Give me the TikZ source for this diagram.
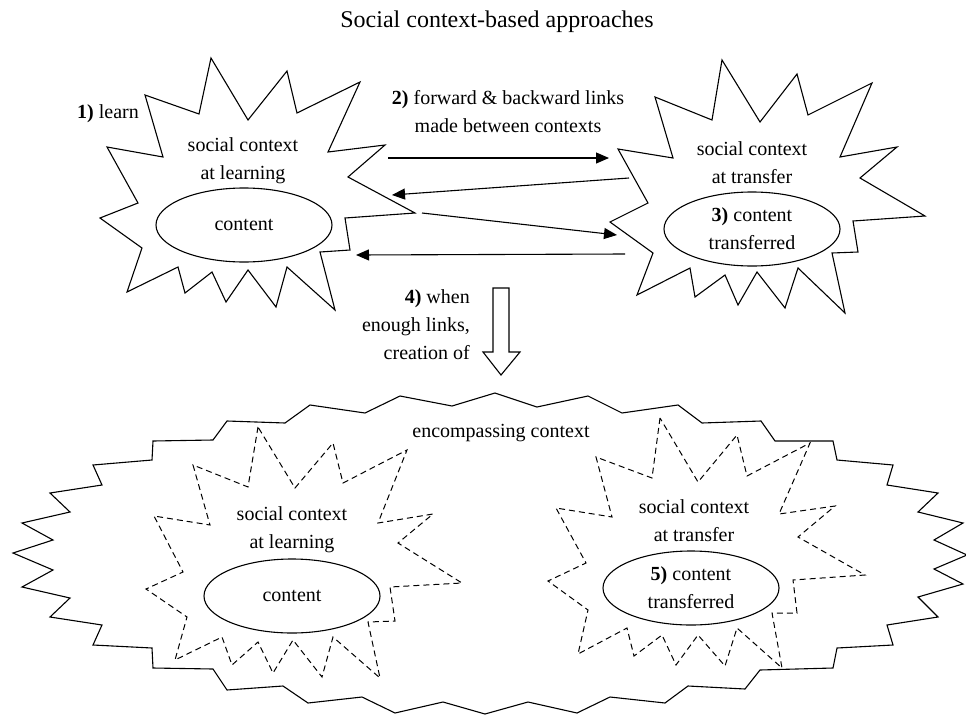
\documentclass[tikz,border=0pt]{standalone}
\usepackage{fontspec}
\setmainfont{Liberation Serif}
\usetikzlibrary{arrows.meta,shapes.geometric}
\begin{document}
\begin{tikzpicture}[x=1pt,y=-1pt,
  lbl/.style={inner sep=0pt,align=center,font=\fontsize{20}{28}\selectfont},
  ttl/.style={inner sep=0pt,font=\fontsize{24}{28}\selectfont},
  outline/.style={draw=black,line width=1.1pt,line join=miter,miter limit=20},
  dashout/.style={draw=black,line width=1pt,dash pattern=on 6pt off 4pt,miter limit=20},
  oval/.style={draw=black,line width=1.1pt,ellipse,minimum width=176pt,minimum height=74pt,inner sep=0pt,align=center,font=\fontsize{20}{28}\selectfont},
  link/.style={draw=black,line width=1.1pt,-{Triangle[length=13pt,width=11pt]}},
  hollow/.style={draw=black,line width=1.1pt,fill=white}]
\useasboundingbox (0,0) rectangle (966,715);

% title
\node[ttl] (title) at (497,22) {Social context-based approaches};

% top-left star
\draw[outline] (211,58) -- (248,120) -- (287,71) -- (297,113) -- (360,82) -- (328,152)
  -- (385,145) -- (348,177) -- (415,213) -- (345,218) -- (350,250) -- (320,252)
  -- (335,310) -- (287,267) -- (276,307) -- (248,270) -- (226,302) -- (212,272)
  -- (185,293) -- (178,267) -- (127,292) -- (142,248) -- (100,218) -- (138,203)
  -- (107,147) -- (163,157) -- (145,95) -- (199,114) -- cycle;
\node[lbl] (learnctx) at (243,161) {social context\\at learning};
\node[oval] (content1) at (244,225) {content};
\node[lbl] (learn) at (108,114) {\textbf{1)} learn};

% top-right star
\draw[outline] (722,60) -- (760,122) -- (797,74) -- (808,115) -- (872,83) -- (840,157)
  -- (897,147) -- (860,178) -- (925,216) -- (853,221) -- (858,252) -- (832,253)
  -- (845,313) -- (798,268) -- (785,308) -- (757,272) -- (738,305) -- (725,275)
  -- (695,297) -- (690,268) -- (637,295) -- (653,253) -- (610,222) -- (648,203)
  -- (618,149) -- (673,158) -- (655,97) -- (712,120) -- cycle;
\node[lbl] (transctx) at (752,163) {social context\\at transfer};
\node[oval] (content2) at (752,229) {\textbf{3)} content\\transferred};

% links
\node[lbl] (links) at (508,112) {\textbf{2)} forward \& backward links\\made between contexts};
\coordinate (a1s) at (388,158); \coordinate (a1e) at (609,158);
\coordinate (a2s) at (629,178); \coordinate (a2e) at (392,195);
\coordinate (a3s) at (422,213); \coordinate (a3e) at (617,235);
\coordinate (a4s) at (625,254); \coordinate (a4e) at (356,255);
\draw[link] (a1s) -- (a1e);
\draw[link] (a2s) -- (a2e);
\draw[link] (a3s) -- (a3e);
\draw[link] (a4s) -- (a4e);

% creation arrow
\node[lbl,align=right,anchor=east] (when) at (470,325) {\textbf{4)} when\\enough links,\\creation of};
\draw[hollow] (493,288) -- (509,288) -- (509,352) -- (520,352) -- (501,375)
  -- (483,352) -- (493,352) -- cycle;

% encompassing context outline
\draw[outline] (13,553) -- (53,540) -- (22,523) -- (70,512) -- (50,493) -- (102,485)
  -- (93,465) -- (152,460) -- (153,441) -- (213,440) -- (227,421) -- (285,423)
  -- (310,405) -- (365,413) -- (400,396) -- (452,406) -- (495,393) -- (537,407)
  -- (588,396) -- (622,413) -- (678,405) -- (702,423) -- (761,421) -- (775,441)
  -- (833,441) -- (837,460) -- (893,465) -- (887,485) -- (938,493) -- (918,512)
  -- (963,523) -- (934,540) -- (967,555) -- (934,569) -- (963,584) -- (918,597)
  -- (938,617) -- (887,625) -- (893,645) -- (837,648) -- (833,668) -- (760,670)
  -- (745,689) -- (688,686) -- (665,703) -- (610,697) -- (577,713) -- (528,702)
  -- (485,714) -- (443,702) -- (395,713) -- (362,697) -- (308,703) -- (283,686)
  -- (227,690) -- (213,669) -- (153,668) -- (152,648) -- (93,645) -- (102,625)
  -- (50,617) -- (70,598) -- (22,587) -- (53,570) -- cycle;
\node[lbl] (encomp) at (501,433) {encompassing context};

% bottom-left dashed star
\draw[dashout] (258,427) -- (248,487) -- (193,465) -- (210,525) -- (154,516) -- (183,572)
  -- (146,589) -- (187,617) -- (175,660) -- (222,637) -- (232,665) -- (258,642)
  -- (273,673) -- (293,640) -- (322,677) -- (333,637) -- (380,678) -- (368,622)
  -- (395,621) -- (390,587) -- (462,583) -- (398,543) -- (433,514) -- (378,523)
  -- (407,450) -- (343,483) -- (333,443) -- (295,488) -- cycle;
\node[lbl] (learnctx2) at (292,530) {social context\\at learning};
\node[oval] (content3) at (292,596) {content};

% bottom-right dashed star
\draw[dashout] (660,418) -- (652,478) -- (596,457) -- (612,517) -- (556,508) -- (586,563)
  -- (548,581) -- (588,610) -- (578,654) -- (627,628) -- (634,656) -- (662,635)
  -- (676,665) -- (698,635) -- (725,666) -- (737,628) -- (782,668) -- (772,613)
  -- (797,613) -- (793,580) -- (865,575) -- (798,537) -- (835,506) -- (779,514)
  -- (810,443) -- (747,476) -- (737,435) -- (698,482) -- cycle;
\node[lbl] (transctx2) at (694,521) {social context\\at transfer};
\node[oval] (content4) at (691,588) {\textbf{5)} content\\transferred};
\end{tikzpicture}
\end{document}
